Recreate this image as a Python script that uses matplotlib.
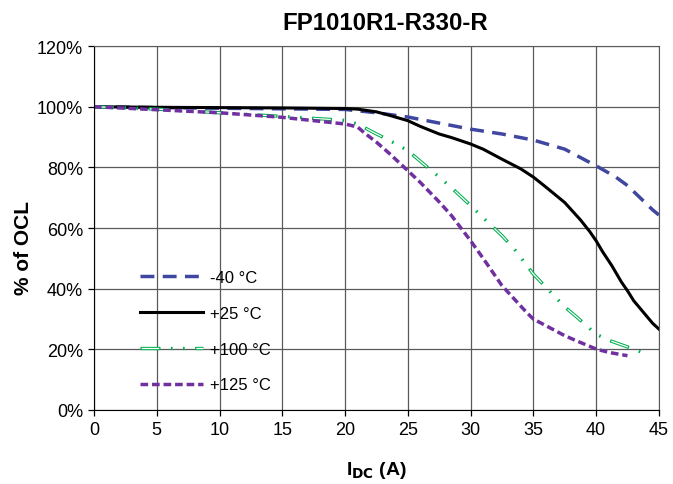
import matplotlib
matplotlib.use('Agg')
from matplotlib import pyplot as plt
from matplotlib.legend_handler import HandlerTuple

plt.rcParams['font.family'] = ['Liberation Sans', 'DejaVu Sans']
plt.rcParams['lines.scale_dashes'] = False

# readings from the reference (current in A, inductance in % of OCL)
x_m40 = [0, 5, 10, 15, 20, 22.5, 25, 27.5, 30, 32.5, 35, 37.5, 40, 41.5, 42.5, 43.5, 44.5, 45]
y_m40 = [100, 99.7, 99.5, 99.3, 99.1, 98.0, 96.6, 94.6, 92.6, 91.0, 89.0, 86.0, 80.5, 77.0, 74.0, 70.0, 66.0, 64.3]

x_25 = [0, 5, 10, 15, 20, 21, 21.5, 22.5, 23.5, 25, 26, 27.5, 28.5, 30, 31, 32.5, 34, 35, 36, 37.5,
        38.75, 39.5, 40, 40.5, 41.25, 42, 42.5, 43, 43.75, 44.5, 45]
y_25 = [100, 99.8, 99.7, 99.6, 99.4, 99.2, 98.9, 98.3, 97.2, 95.4, 93.5, 91.0, 89.8, 87.7, 86.0, 82.7,
        79.5, 76.8, 73.5, 68.4, 62.7, 58.8, 55.8, 52.3, 47.6, 42.3, 39.3, 36.0, 32.3, 28.6, 26.7]

x_100 = [0, 5, 10, 15, 20, 21, 22.5, 23.5, 25, 26, 27.5, 28.5, 30, 31, 32.5, 33.5, 35, 36, 37.5,
         38.5, 39.5, 40, 41, 42.5, 43, 44]
y_100 = [100, 99.2, 98.0, 96.8, 95.5, 94.3, 91.0, 89.0, 85.5, 82.0, 76.8, 73.2, 67.4, 63.4, 57.5,
         53.0, 44.8, 40.5, 34.0, 30.5, 26.8, 25.0, 23.0, 20.8, 20.0, 18.5]

x_125 = [0, 5, 10, 15, 20, 21, 21.5, 22.5, 23.5, 25, 26, 27.5, 28.5, 30, 31, 32.5, 33.5, 34.5, 35,
         36, 37.5, 38.5, 40, 41, 42.5]
y_125 = [100, 99.0, 98.0, 96.5, 94.3, 93.3, 91.5, 88.3, 84.7, 78.9, 75.0, 68.6, 64.0, 55.8, 50.0,
         41.0, 36.5, 32.0, 30.0, 27.8, 24.5, 22.7, 20.1, 19.0, 17.9]

labels = ['-40 °C', '+25 °C', '+100 °C', '+125 °C']

fig = plt.figure(figsize=(6.73, 4.85), dpi=100)
ax = fig.add_axes([0.1397, 0.1526, 0.8393, 0.7504])

h1, = ax.plot(x_m40, y_m40, color='#3f47a0', lw=2.5, dash_capstyle='butt', linestyle=(0, (10, 6)))
h2, = ax.plot(x_25, y_25, color='black', lw=2.2)
# hollow dash-dot-dot: green outline with a white core in the long dashes
g1, = ax.plot(x_100, y_100, color='#00b050', lw=2.4, dash_capstyle='butt',
              linestyle=(0, (14.4, 7.5, 1.2, 7.5, 1.2, 7.5)))
g2, = ax.plot(x_100, y_100, color='white', lw=0.9, dash_capstyle='butt',
              linestyle=(-0.9, (12.6, 26.7)))
h4, = ax.plot(x_125, y_125, color='#7030a0', lw=2.5, dash_capstyle='butt', linestyle=(0, (5.5, 2.8)))

ax.set_xlim(0, 45)
ax.set_ylim(0, 120)
ax.set_xticks(range(0, 46, 5))
ax.set_yticks(range(0, 121, 20))
ax.set_yticklabels([f'{v}%' for v in range(0, 121, 20)])
ax.grid(True, color='#5a5a5a', lw=0.9)
ax.tick_params(labelsize=13, length=4, width=0.9, direction='out', pad=4)
for side in ['left', 'bottom']:
    ax.spines[side].set_color('black')
for side in ['top', 'right']:
    ax.spines[side].set_color('#5a5a5a')

ax.set_title('FP1010R1-R330-R', fontsize=17.3, fontweight='bold', pad=12, x=0.515)
ax.set_xlabel('I$_{\\mathbf{DC}}$ (A)', fontsize=14, fontweight='bold', labelpad=15)
ax.set_ylabel('% of OCL', fontsize=15, fontweight='bold')
ax.yaxis.set_label_coords(-0.108, 0.449)

leg = ax.legend([h1, h2, (g1, g2), h4], labels, loc='upper left',
                bbox_to_anchor=(0.0814, 0.385), borderaxespad=0, borderpad=0,
                frameon=False, fontsize=12, handlelength=3.8, handletextpad=0.4,
                labelspacing=1.25, handler_map={tuple: HandlerTuple(ndivide=1)})

plt.savefig('out.png', dpi=100)
